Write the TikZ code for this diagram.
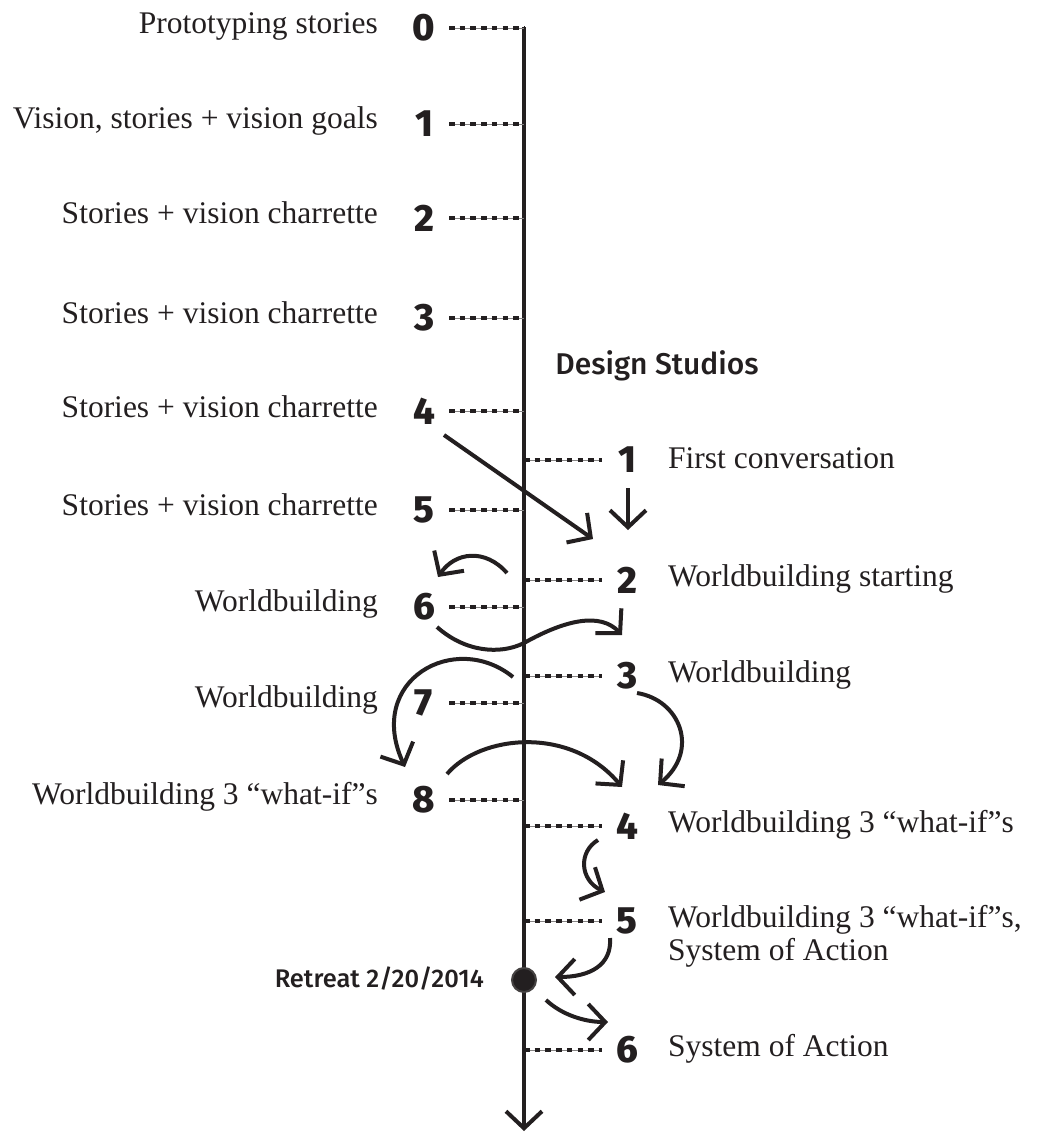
\documentclass[tikz,border=0pt]{standalone}
\usepackage{fontspec}
\usetikzlibrary{arrows.meta}
\setmainfont{Liberation Serif}
\newfontfamily\numfont{Fira Sans ExtraBold}
\newfontfamily\headfont{Fira Sans Medium}
\definecolor{ink}{RGB}{35,31,32}

\begin{document}
\begin{tikzpicture}[x=1pt,y=-1pt,
    num/.style={font=\numfont\fontsize{38}{40}\selectfont, text=ink, inner sep=0pt},
    head/.style={font=\headfont\fontsize{30}{32}\selectfont, text=ink, inner sep=0pt},
    lab/.style={font=\fontsize{31.5}{33}\selectfont, text=ink, inner sep=0pt},
    tick/.style={ink, line width=4.5pt, dash pattern=on 5.5pt off 5.2pt,
      preaction={draw=ink!55, line width=0.6pt, solid}},
    flow/.style={ink, line width=4pt, -{Straight Barb[length=17pt,width=36pt]}}]
  \useasboundingbox (0,0) rectangle (1038,1133);

  % time line
  \coordinate (top) at (524,27);
  \coordinate (bot) at (524,1131);
  \draw [flow] (top) -- (bot);
  \node [circle, fill=ink, draw=ink!85, line width=2pt, minimum size=24pt, inner sep=0pt] (dot) at (524,980) {};

  % left side
  \node [num] (l0) at (424,28) {0};
  \node [num] (l1) at (424,124) {1};
  \node [num] (l2) at (424,218) {2};
  \node [num] (l3) at (424,318) {3};
  \node [num] (l4) at (424,411) {4};
  \node [num] (l5) at (424,510) {5};
  \node [num] (l6) at (424,607) {6};
  \node [num] (l7) at (424,703) {7};
  \node [num] (l8) at (424,800) {8};
  \draw [tick] ([xshift=25pt]l0.center) -- (l0 -| top);
  \draw [tick] ([xshift=25pt]l1.center) -- (l1 -| top);
  \draw [tick] ([xshift=25pt]l2.center) -- (l2 -| top);
  \draw [tick] ([xshift=25pt]l3.center) -- (l3 -| top);
  \draw [tick] ([xshift=25pt]l4.center) -- (l4 -| top);
  \draw [tick] ([xshift=25pt]l5.center) -- (l5 -| top);
  \draw [tick] ([xshift=25pt]l6.center) -- (l6 -| top);
  \draw [tick] ([xshift=25pt]l7.center) -- (l7 -| top);
  \draw [tick] ([xshift=25pt]l8.center) -- (l8 -| top);
  \node [lab, anchor=base east] (t0) at (378,33) {Prototyping stories};
  \node [lab, anchor=base east] (t1) at (378,128) {Vision, stories + vision goals};
  \node [lab, anchor=base east] (t2) at (378,223) {Stories + vision charrette};
  \node [lab, anchor=base east] (t3) at (378,323) {Stories + vision charrette};
  \node [lab, anchor=base east] (t4) at (378,417) {Stories + vision charrette};
  \node [lab, anchor=base east] (t5) at (378,515) {Stories + vision charrette};
  \node [lab, anchor=base east] (t6) at (378,611) {Worldbuilding};
  \node [lab, anchor=base east] (t7) at (378,707) {Worldbuilding};
  \node [lab, anchor=base east] (t8) at (378,804) {Worldbuilding 3 “what-if”s};

  % design studios
  \node [head, anchor=base] (studios) at (657,374) {Design Studios};
  \node [num] (r1) at (627,460) {1};
  \node [num] (r2) at (627,580) {2};
  \node [num] (r3) at (627,676) {3};
  \node [num] (r4) at (627,826) {4};
  \node [num] (r5) at (627,921) {5};
  \node [num] (r6) at (627,1050) {6};
  \draw [tick] (r1 -| top) -- ([xshift=-25pt]r1.center);
  \draw [tick] (r2 -| top) -- ([xshift=-25pt]r2.center);
  \draw [tick] (r3 -| top) -- ([xshift=-25pt]r3.center);
  \draw [tick] (r4 -| top) -- ([xshift=-25pt]r4.center);
  \draw [tick] (r5 -| top) -- ([xshift=-25pt]r5.center);
  \draw [tick] (r6 -| top) -- ([xshift=-25pt]r6.center);
  \node [lab, anchor=base west] (s1) at (668,468) {First conversation};
  \node [lab, anchor=base west] (s2) at (668,586) {Worldbuilding starting};
  \node [lab, anchor=base west] (s3) at (668,682) {Worldbuilding};
  \node [lab, anchor=base west] (s4) at (668,832) {Worldbuilding 3 “what-if”s};
  \node [lab, anchor=base west] (s5) at (668,927) {Worldbuilding 3 “what-if”s,};
  \node [lab, anchor=base west] (s5b) at (668,960) {System of Action};
  \node [lab, anchor=base west] (s6) at (668,1056) {System of Action};
  \node [head, font=\headfont\fontsize{25.5}{30}\selectfont, anchor=base east] (retreat) at (484,987) {Retreat 2/20/2014};

  % moves between the two tracks
  \draw [flow] (444,435) -- (593,539);
  \draw [flow] (628,488) -- (628,530);
  \draw [flow] (507,573) .. controls (485,548) and (455,552) .. (438,577);
  \draw [flow] (437,627) .. controls (465,652) and (500,655) .. (524,643) .. controls (565,620) and (600,612) .. (622,635);
  \draw [flow] (513,677) .. controls (455,630) and (365,680) .. (405,767);
  \draw [flow] (637,693) .. controls (680,700) and (700,750) .. (658,785);
  \draw [flow] (447,774) .. controls (480,735) and (570,725) .. (622,787);
  \draw [flow] (598,840) .. controls (578,852) and (580,880) .. (605,892);
  \draw [flow] (610,938) .. controls (612,965) and (590,977) .. (555,977);
  \draw [flow] (546,1000) .. controls (562,1015) and (585,1022) .. (608,1022);
\end{tikzpicture}
\end{document}
